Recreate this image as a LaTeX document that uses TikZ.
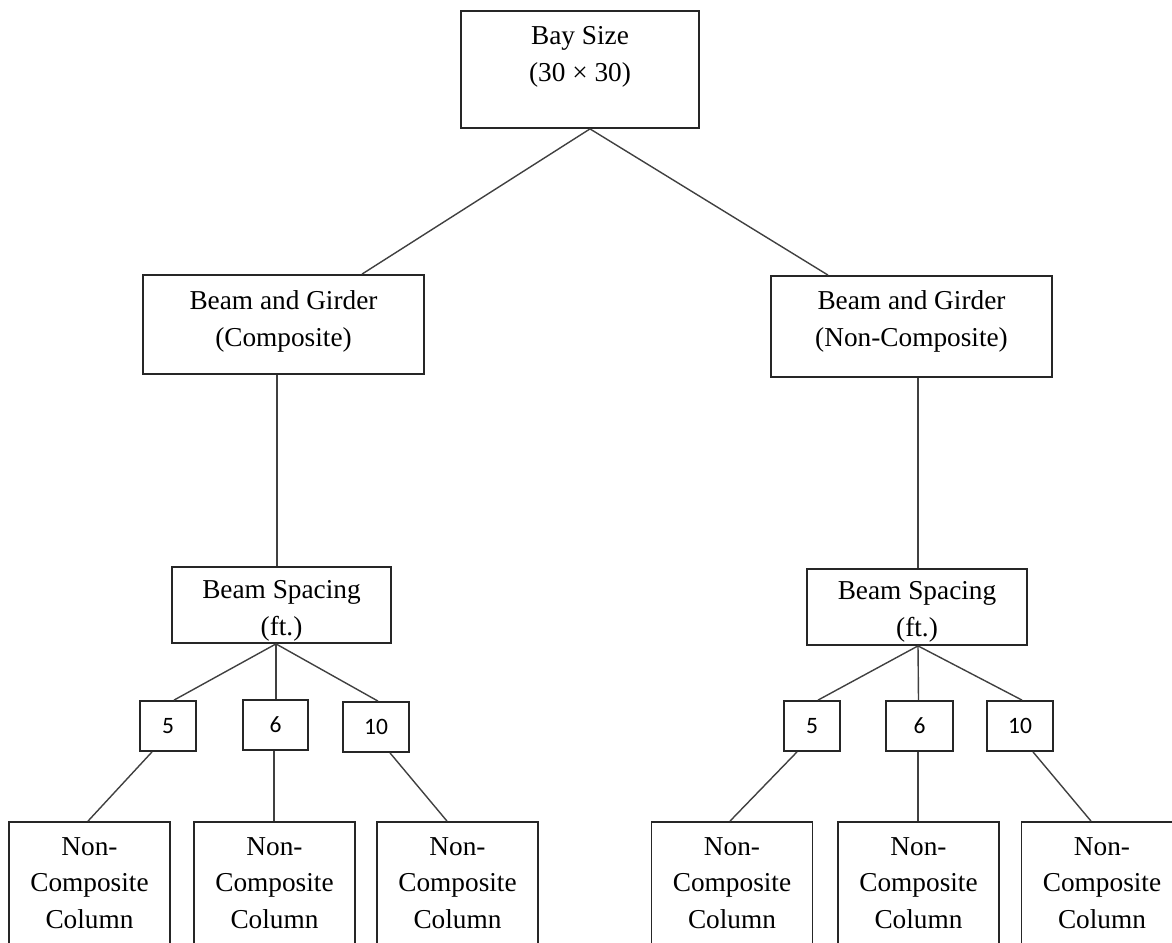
\documentclass[tikz,border=0pt]{standalone}
\usepackage{fontspec}
\setmainfont{Liberation Serif}
\newfontfamily\serifface{Liberation Serif}
\newfontfamily\digitfont{Carlito}
\begin{document}
\begin{tikzpicture}[x=1pt,y=-1pt,
  box/.style={draw=black!85, line width=1.8pt, rectangle, inner sep=0pt},
  boxtext/.style={anchor=north, inner sep=0pt, align=center,
    font=\serifface\fontsize{27.3}{36.8}\selectfont},
  numbox/.style={box, minimum height=50pt,
    font=\digitfont\fontsize{23.5}{28}\selectfont},
  colbox/.style={box, minimum width=161pt, minimum height=168pt},
  link/.style={draw=black!75, line width=1.4pt}
]
\useasboundingbox (0,0) rectangle (1172,942);

% root
\node[box, minimum width=238pt, minimum height=117pt] (bay) at (580,69.5) {};
\node[boxtext] (bayT) at (580,26.5) {Bay Size\\(30 × 30)};

% beam and girder systems
\node[box, minimum width=281pt, minimum height=99pt] (bgc) at (283.5,324.5) {};
\node[boxtext] (bgcT) at (283.5,290.5) {Beam and Girder\\(Composite)};
\node[box, minimum width=281pt, minimum height=101pt] (bgn) at (911.5,326.5) {};
\node[boxtext] (bgnT) at (911.5,290.5) {Beam and Girder\\(Non-Composite)};

% beam spacing
\node[box, minimum width=219pt, minimum height=76pt] (bsl) at (281.5,605) {};
\node[boxtext] (bslT) at (281.5,580.5) {Beam Spacing\\(ft.)};
\node[box, minimum width=220pt, minimum height=76pt] (bsr) at (917,607) {};
\node[boxtext] (bsrT) at (917,581.5) {Beam Spacing\\(ft.)};

% spacing values
\node[numbox, minimum width=56pt] (s5l) at (168,726) {5};
\node[numbox, minimum width=65pt] (s6l) at (275.5,725) {6};
\node[numbox, minimum width=66pt] (s10l) at (376,727) {10};
\node[numbox, minimum width=56pt] (s5r) at (812,726) {5};
\node[numbox, minimum width=67pt] (s6r) at (919.5,726) {6};
\node[numbox, minimum width=66pt] (s10r) at (1020,726) {10};

% columns
\node[colbox] (c1) at (89.5,906) {};
\node[colbox] (c2) at (274.5,906) {};
\node[colbox] (c3) at (457.5,906) {};
\node[colbox] (c4) at (732,906) {};
\node[colbox] (c5) at (918.5,906) {};
\node[colbox] (c6) at (1102,906) {};
\node[boxtext] (c1T) at (89.5,837) {Non-\\Composite\\Column};
\node[boxtext] (c2T) at (274.5,837) {Non-\\Composite\\Column};
\node[boxtext] (c3T) at (457.5,837) {Non-\\Composite\\Column};
\node[boxtext] (c4T) at (732,837) {Non-\\Composite\\Column};
\node[boxtext] (c5T) at (918.5,837) {Non-\\Composite\\Column};
\node[boxtext] (c6T) at (1102,837) {Non-\\Composite\\Column};

% connectors
\draw[link] ([xshift=10pt]bay.south) -- ([xshift=78.5pt]bgc.north);
\draw[link] ([xshift=10pt]bay.south) -- ([xshift=-83.5pt]bgn.north);
\draw[link] ([xshift=-6.5pt]bgc.south) -- ([xshift=-4.5pt]bsl.north);
\draw[link] ([xshift=6.5pt]bgn.south) -- ([xshift=1pt]bsr.north);

\draw[link] ([xshift=-5.5pt]bsl.south) -- ([xshift=6pt]s5l.north);
\draw[link] ([xshift=-5.5pt]bsl.south) -- ([xshift=0.5pt]s6l.north);
\draw[link] ([xshift=-5.5pt]bsl.south) -- ([xshift=2pt]s10l.north);
\draw[link] ([xshift=1pt]bsr.south) -- ([xshift=6pt]s5r.north);
\draw[link] ([xshift=1pt]bsr.south) -- ([xshift=-1pt]s6r.north);
\draw[link] ([xshift=1pt]bsr.south) -- ([xshift=2pt]s10r.north);

\draw[link] ([xshift=-16pt]s5l.south) -- ([xshift=-1.5pt]c1.north);
\draw[link] ([xshift=-1.5pt]s6l.south) -- ([xshift=-0.5pt]c2.north);
\draw[link] ([xshift=14pt]s10l.south) -- ([xshift=-10.5pt]c3.north);
\draw[link] ([xshift=-15pt]s5r.south) -- ([xshift=-2pt]c4.north);
\draw[link] ([xshift=-1.5pt]s6r.south) -- ([xshift=-0.5pt]c5.north);
\draw[link] ([xshift=13pt]s10r.south) -- ([xshift=-11pt]c6.north);
\end{tikzpicture}
\end{document}
